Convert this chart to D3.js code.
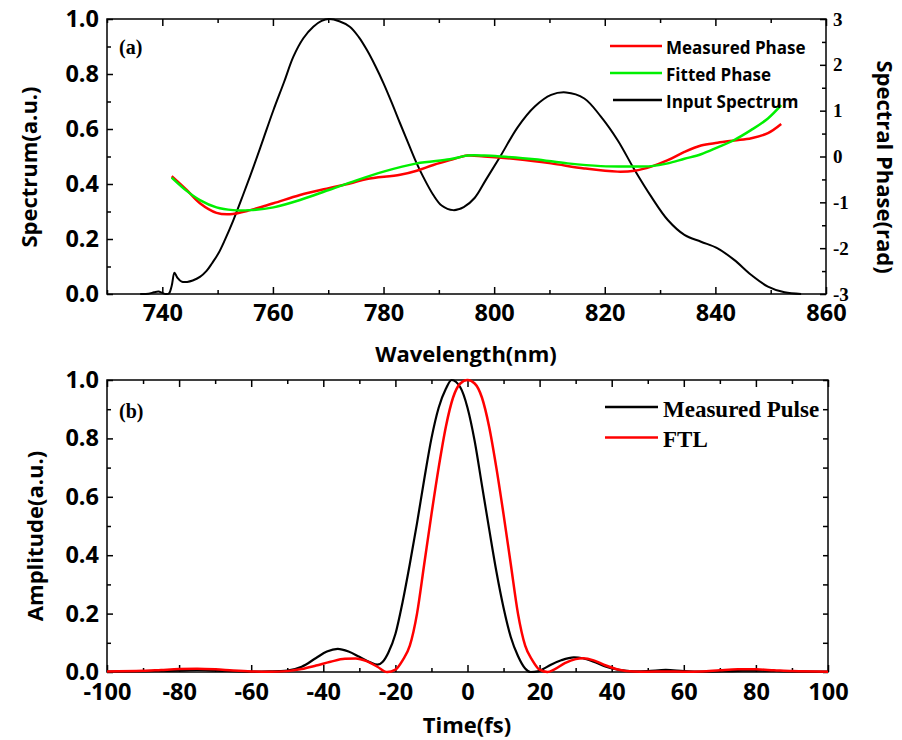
<!DOCTYPE html>
<html>
<head>
<meta charset="utf-8">
<script src="https://cdn.jsdelivr.net/npm/d3@7"></script>
<style>
  html, body { margin: 0; padding: 0; background: #fff; }
  svg { display: block; }
  .tick text { font-family: "Open Sans", Lato, sans-serif; font-weight: 700; }
</style>
</head>
<body>
<svg id="chart" width="902" height="740"></svg>
<script>
// ---- Panel (a): input spectrum (left axis) and spectral phase (right axis)
const specWl  = [736, 737.5, 738.5, 739.3, 740, 740.6, 741.2, 741.7, 742.2, 742.7, 743.5, 744.5, 745.5, 746.8, 748, 749, 750.1, 751.3, 752.8, 754.6, 756.5, 758.3, 760.1, 762, 763.7, 765.5, 767.3, 768.8, 770.1, 772, 773.9, 775.5, 777, 778.5, 780, 781.5, 783, 784.5, 786, 787.2, 789, 790.5, 792.6, 794.5, 796.5, 798.5, 801.1, 804.3, 807.3, 810.3, 813, 816.3, 819.3, 822.3, 825.4, 828.4, 831.4, 834.4, 837.4, 840.4, 843.4, 846.5, 849.5, 852.5, 855.5];
const specVal = [0, 0.001, 0.006, 0.009, 0.004, 0.0, 0.002, 0.03, 0.077, 0.06, 0.045, 0.044, 0.049, 0.062, 0.084, 0.112, 0.146, 0.196, 0.266, 0.36, 0.463, 0.566, 0.669, 0.77, 0.863, 0.93, 0.972, 0.993, 1.0, 0.992, 0.972, 0.935, 0.887, 0.83, 0.766, 0.695, 0.62, 0.547, 0.475, 0.425, 0.36, 0.322, 0.305, 0.316, 0.35, 0.415, 0.5, 0.608, 0.681, 0.724, 0.733, 0.711, 0.645, 0.56, 0.451, 0.354, 0.269, 0.215, 0.19, 0.166, 0.124, 0.069, 0.027, 0.006, 0];

const measWl    = [741.7, 744.4, 746.8, 749.8, 752.2, 755.9, 760.1, 764.9, 770.1, 773.9, 777, 783, 786, 789, 792, 795.2, 798.2, 804.3, 810.3, 816.3, 822.3, 825.4, 828.4, 831.4, 834.4, 837.4, 840.4, 843.4, 846.5, 849.5, 851.9];
const measPhase = [-0.43, -0.73, -1.02, -1.23, -1.26, -1.17, -1.02, -0.84, -0.69, -0.59, -0.49, -0.40, -0.31, -0.185, -0.08, 0.02, 0.0, -0.06, -0.15, -0.26, -0.33, -0.31, -0.22, -0.08, 0.10, 0.24, 0.30, 0.35, 0.40, 0.51, 0.71];

const fitWl    = [741.7, 744.4, 746.8, 749.8, 752.8, 755.9, 760.1, 764.9, 770.1, 773.9, 780, 786, 792, 795.2, 798.2, 801.2, 807.3, 813.3, 819.3, 824.2, 828.4, 831.4, 834.4, 837.4, 840.4, 843.4, 846.5, 849.5, 851.9];
const fitPhase = [-0.46, -0.75, -0.95, -1.11, -1.17, -1.17, -1.11, -0.95, -0.73, -0.57, -0.33, -0.15, -0.06, 0.02, 0.02, 0.0, -0.06, -0.15, -0.21, -0.22, -0.21, -0.15, -0.05, 0.05, 0.20, 0.36, 0.58, 0.83, 1.12];

// ---- Panel (b): temporal amplitude
const pulseT   = [-100, -90, -80, -75, -70, -60, -55, -50, -46, -42, -39, -36, -33, -30, -27, -25, -23.5, -22, -20, -18, -16, -14, -12, -10, -8, -6, -4.4, -2, 0, 2, 4, 6, 8, 10, 12, 14, 16, 17.5, 19.5, 21, 23, 26, 29.5, 32, 35, 38, 42, 46, 50, 55, 60, 65, 75, 80, 90, 100];
const pulseVal = [0.001, 0.003, 0.005, 0.007, 0.005, 0.001, 0.002, 0.005, 0.018, 0.048, 0.07, 0.079, 0.07, 0.052, 0.033, 0.025, 0.035, 0.065, 0.13, 0.24, 0.37, 0.51, 0.66, 0.80, 0.905, 0.97, 1.0, 0.975, 0.905, 0.79, 0.64, 0.49, 0.345, 0.22, 0.12, 0.055, 0.012, 0.0, 0.002, 0.01, 0.024, 0.04, 0.05, 0.047, 0.035, 0.02, 0.007, 0.002, 0.003, 0.007, 0.003, 0.001, 0.004, 0.005, 0.002, 0.001];

const ftlT   = [-100, -90, -85, -80, -75, -70, -65, -60, -55, -50, -46, -42, -38, -34, -31, -28, -25, -22.3, -20, -18, -16, -14, -12, -10, -8, -6, -4, -2, 0, 2, 4, 6, 8, 10, 12, 14, 16, 18, 20, 22.2, 24, 27, 30, 32, 35, 38, 42, 46, 50, 55, 60, 65, 70, 75, 80, 85, 90, 100];
const ftlVal = [0.002, 0.004, 0.007, 0.010, 0.011, 0.009, 0.005, 0.002, 0.001, 0.003, 0.01, 0.022, 0.035, 0.045, 0.046, 0.037, 0.018, 0.0, 0.008, 0.04, 0.09, 0.20, 0.37, 0.54, 0.70, 0.84, 0.94, 0.988, 1.0, 0.988, 0.94, 0.84, 0.70, 0.54, 0.37, 0.20, 0.09, 0.04, 0.008, 0.0, 0.008, 0.03, 0.044, 0.047, 0.04, 0.024, 0.008, 0.002, 0.001, 0.002, 0.001, 0.002, 0.006, 0.009, 0.009, 0.006, 0.003, 0.001];

// Tick values
const wlMajor = [740, 760, 780, 800, 820, 840, 860];
const wlMinor = [730, 750, 770, 790, 810, 830, 850];
const unitMajor = [0, 0.2, 0.4, 0.6, 0.8, 1.0];
const unitMinor = [0.1, 0.3, 0.5, 0.7, 0.9];
const phaseMajor = [-3, -2, -1, 0, 1, 2, 3];
const phaseMinor = [-2.5, -1.5, -0.5, 0.5, 1.5, 2.5];
const timeMajor = [-100, -80, -60, -40, -20, 0, 20, 40, 60, 80, 100];
const timeMinor = [-90, -70, -50, -30, -10, 10, 30, 50, 70, 90];

const legendA = ["Measured Phase", "Fitted Phase", "Input Spectrum"];
const legendB = ["Measured Pulse", "FTL"];

const RED = "#ff0000", GREEN = "#00f000", BLACK = "#000000";
const SANS = "'Open Sans', Lato, sans-serif";
const SERIF = "'Liberation Serif', 'Times New Roman', serif";

const svg = d3.select("#chart");

// Scales
const xA  = d3.scaleLinear().domain([730, 860]).range([107, 826]);
const yAL = d3.scaleLinear().domain([0, 1]).range([294, 19]);
const yAR = d3.scaleLinear().domain([-3, 3]).range([294, 19]);
const xB  = d3.scaleLinear().domain([-100, 100]).range([107, 828]);
const yB  = d3.scaleLinear().domain([0, 1]).range([672, 380]);

const fmt1 = d3.format(".1f");

// draw an axis group, ticks pointing into the plot
function axisGroup(axis, tx, ty) {
  const g = svg.append("g").attr("transform", `translate(${tx},${ty})`).call(axis);
  g.select(".domain").remove();
  g.selectAll(".tick line").attr("stroke", "#000").attr("stroke-width", 1.5);
  return g;
}

function frame(x, y) {
  svg.append("rect")
    .attr("x", x.range()[0]).attr("y", y.range()[1])
    .attr("width", x.range()[1] - x.range()[0])
    .attr("height", y.range()[0] - y.range()[1])
    .attr("fill", "none").attr("stroke", "#000").attr("stroke-width", 1.5);
}

// ---------- Panel (a) axes ----------
let g = axisGroup(d3.axisBottom(xA).tickValues(wlMajor).tickSize(-7).tickPadding(10).tickFormat(d3.format("d")), 0, yAL.range()[0]);
g.selectAll("text").attr("font-size", 23.5).attr("fill", "#000");
axisGroup(d3.axisBottom(xA).tickValues(wlMinor).tickSize(-4).tickFormat(""), 0, yAL.range()[0]);
axisGroup(d3.axisTop(xA).tickValues(wlMajor).tickSize(-7).tickFormat(""), 0, yAL.range()[1]);
axisGroup(d3.axisTop(xA).tickValues(wlMinor).tickSize(-4).tickFormat(""), 0, yAL.range()[1]);
g = axisGroup(d3.axisLeft(yAL).tickValues(unitMajor).tickSize(-6).tickPadding(8).tickFormat(fmt1), xA.range()[0], 0);
g.selectAll("text").attr("font-size", 23.5).attr("fill", "#000");
axisGroup(d3.axisLeft(yAL).tickValues(unitMinor).tickSize(-4).tickFormat(""), xA.range()[0], 0);
g = axisGroup(d3.axisRight(yAR).tickValues(phaseMajor).tickSize(-6).tickPadding(7).tickFormat(d3.format("d")), xA.range()[1], 0);
g.selectAll("text").attr("font-size", 19).attr("fill", "#000")
  .style("font-family", SERIF).style("font-weight", 700)
  .text(d => String(d));
axisGroup(d3.axisRight(yAR).tickValues(phaseMinor).tickSize(-4).tickFormat(""), xA.range()[1], 0);

frame(xA, yAL);

// ---------- Panel (a) curves ----------
const smooth = d3.curveCatmullRom.alpha(0.5);
const lineSpec = d3.line().x((d, i) => xA(specWl[i])).y(d => yAL(d)).curve(smooth);
const lineMeas = d3.line().x((d, i) => xA(measWl[i])).y(d => yAR(d)).curve(smooth);
const lineFit  = d3.line().x((d, i) => xA(fitWl[i])).y(d => yAR(d)).curve(smooth);

svg.append("path").attr("d", lineSpec(specVal)).attr("fill", "none").attr("stroke", BLACK).attr("stroke-width", 2);
svg.append("path").attr("d", lineMeas(measPhase)).attr("fill", "none").attr("stroke", RED).attr("stroke-width", 2.5);
svg.append("path").attr("d", lineFit(fitPhase)).attr("fill", "none").attr("stroke", GREEN).attr("stroke-width", 2.5);

// ---------- Panel (a) labels ----------
svg.append("text").attr("x", 466).attr("y", 362).attr("text-anchor", "middle")
  .style("font-family", SANS).style("font-weight", 700).attr("font-size", 22).text("Wavelength(nm)");
svg.append("text").attr("transform", "translate(37,167) rotate(-90)").attr("text-anchor", "middle")
  .style("font-family", SANS).style("font-weight", 700).attr("font-size", 22).text("Spectrum(a.u.)");
svg.append("text").attr("transform", "translate(877,167) rotate(90)").attr("text-anchor", "middle")
  .style("font-family", SANS).style("font-weight", 700).attr("font-size", 22).text("Spectral Phase(rad)");
svg.append("text").attr("x", 119).attr("y", 54)
  .style("font-family", SERIF).style("font-weight", 700).attr("font-size", 20).text("(a)");

const legA = [[RED, 610], [GREEN, 610], [BLACK, 613]];
legendA.forEach((name, i) => {
  const yy = 46 + i * 27;
  svg.append("line").attr("x1", legA[i][1]).attr("x2", 662).attr("y1", yy).attr("y2", yy)
    .attr("stroke", legA[i][0]).attr("stroke-width", 2.5);
  svg.append("text").attr("x", 666).attr("y", yy + 8)
    .style("font-family", SANS).style("font-weight", 700).attr("font-size", 17).text(name);
});

// ---------- Panel (b) axes ----------
g = axisGroup(d3.axisBottom(xB).tickValues(timeMajor).tickSize(-7).tickPadding(11).tickFormat(d => String(d)), 0, yB.range()[0]);
g.selectAll("text").attr("font-size", 23.5).attr("fill", "#000");
axisGroup(d3.axisBottom(xB).tickValues(timeMinor).tickSize(-4).tickFormat(""), 0, yB.range()[0]);
axisGroup(d3.axisTop(xB).tickValues(timeMajor).tickSize(-7).tickFormat(""), 0, yB.range()[1]);
axisGroup(d3.axisTop(xB).tickValues(timeMinor).tickSize(-4).tickFormat(""), 0, yB.range()[1]);
g = axisGroup(d3.axisLeft(yB).tickValues(unitMajor).tickSize(-6).tickPadding(8).tickFormat(fmt1), xB.range()[0], 0);
g.selectAll("text").attr("font-size", 23.5).attr("fill", "#000");
axisGroup(d3.axisLeft(yB).tickValues(unitMinor).tickSize(-4).tickFormat(""), xB.range()[0], 0);
axisGroup(d3.axisRight(yB).tickValues(unitMajor.concat(unitMinor)).tickSize(-5).tickFormat(""), xB.range()[1], 0);

frame(xB, yB);

const linePulse = d3.line().x((d, i) => xB(pulseT[i])).y(d => yB(d)).curve(d3.curveMonotoneX);
const lineFtl   = d3.line().x((d, i) => xB(ftlT[i])).y(d => yB(d)).curve(d3.curveMonotoneX);
svg.append("path").attr("d", linePulse(pulseVal)).attr("fill", "none").attr("stroke", BLACK).attr("stroke-width", 2.2);
svg.append("path").attr("d", lineFtl(ftlVal)).attr("fill", "none").attr("stroke", RED).attr("stroke-width", 2.5);

svg.append("text").attr("x", 467).attr("y", 733).attr("text-anchor", "middle")
  .style("font-family", SANS).style("font-weight", 700).attr("font-size", 22).text("Time(fs)");
svg.append("text").attr("transform", "translate(43,536) rotate(-90)").attr("text-anchor", "middle")
  .style("font-family", SANS).style("font-weight", 700).attr("font-size", 22).text("Amplitude(a.u.)");
svg.append("text").attr("x", 119).attr("y", 418)
  .style("font-family", SERIF).style("font-weight", 700).attr("font-size", 20).text("(b)");

const legB = [BLACK, RED];
legendB.forEach((name, i) => {
  const yy = 407 + i * 30.5;
  svg.append("line").attr("x1", 605).attr("x2", 658).attr("y1", yy).attr("y2", yy)
    .attr("stroke", legB[i]).attr("stroke-width", 2.5);
  svg.append("text").attr("x", 663).attr("y", yy + 9.5)
    .style("font-family", SERIF).style("font-weight", 700).attr("font-size", 23).text(name);
});
</script>
</body>
</html>
